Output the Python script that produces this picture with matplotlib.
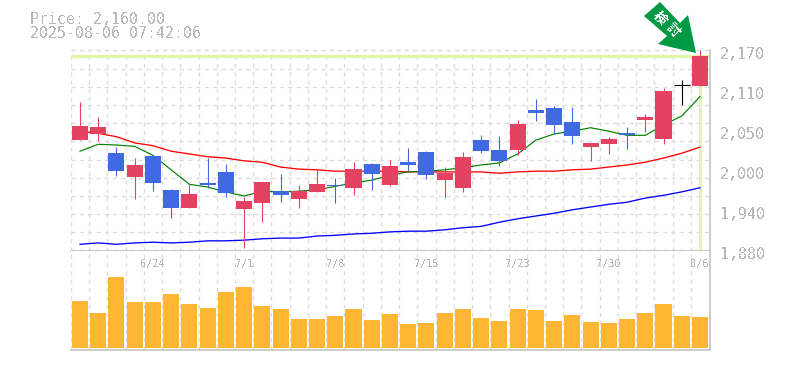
import numpy as np
import matplotlib
matplotlib.use("Agg")
import matplotlib.pyplot as plt
from matplotlib.patches import Polygon

W, H = 785, 370

# daily candles, price in yen
opens = [2040, 2049, 2021, 1987, 2017, 1968, 1942, 1978, 1994, 1940, 1949, 1966,
         1955, 1965, 1975, 1971, 2005, 1975, 2008, 2023, 1982, 1971, 2040, 2026,
         2026, 2084, 2087, 2066, 2030, 2034, 2050, 2069, 2042, 2120, 2119]
closes = [2060, 2059, 1995, 2004, 1978, 1942, 1962, 1975, 1963, 1952, 1979, 1960,
          1966, 1976, 1973, 1998, 1991, 2002, 2004, 1989, 1992, 2016, 2024, 2010,
          2063, 2079, 2062, 2046, 2036, 2042, 2047, 2074, 2111, 2120, 2162]
highs = [2095, 2074, 2030, 2014, 2018, 1969, 1976, 2014, 2005, 1958, 1979, 1991,
         1975, 1998, 1985, 2008, 2007, 2011, 2029, 2024, 2001, 2023, 2047, 2046,
         2069, 2100, 2090, 2088, 2036, 2045, 2059, 2078, 2116, 2127, 2171]
lows = [2040, 2039, 1988, 1955, 1966, 1927, 1942, 1971, 1958, 1884, 1921, 1950,
        1942, 1965, 1949, 1960, 1968, 1973, 1995, 1984, 1956, 1965, 2021, 2002,
        2018, 2068, 2050, 2034, 2010, 2020, 2027, 2052, 2034, 2091, 2119]

ma_short = [2024, 2034, 2033, 2031, 2018, 1997, 1976, 1972, 1965, 1959, 1966, 1965,
            1966, 1968, 1973, 1978, 1982, 1989, 1994, 1995, 1997, 2000, 2004, 2007,
            2020, 2040, 2049, 2053, 2058, 2053, 2047, 2047, 2062, 2075, 2103]
ma_mid = [2053, 2050, 2045, 2036, 2032, 2024, 2020, 2016, 2014, 2010, 2008, 2001,
          1998, 1997, 1995, 1995, 1995, 1995, 1994, 1994, 1994, 1994, 1994, 1992,
          1994, 1995, 1995, 1997, 1998, 2001, 2004, 2008, 2014, 2021, 2030]
ma_long = [1889, 1891, 1889, 1891, 1892, 1891, 1892, 1894, 1894, 1895, 1897, 1898,
           1898, 1901, 1902, 1904, 1905, 1907, 1908, 1908, 1910, 1913, 1915, 1921,
           1926, 1930, 1934, 1939, 1943, 1947, 1950, 1956, 1960, 1965, 1971]

volume = [47, 35, 71, 46, 46, 54, 44, 40, 56, 61, 42, 39, 29, 29, 32, 39, 28, 34,
          24, 25, 35, 39, 30, 27, 39, 38, 27, 33, 26, 25, 29, 35, 44, 32, 31]

date_pos = [4, 9, 14, 19, 24, 29, 34]
date_labels = ["6/24", "7/1", "7/8", "7/15", "7/23", "7/30", "8/6"]
# labels are rounded, the ticks themselves sit evenly spaced
price_labels = ["2,170", "2,110", "2,050", "2,000", "1,940", "1,880"]
last_price = 2162

RED = "#e34360"
BLUE = "#4169e1"
GRID = "#dcdcdc"
FRAME = "#c0c0c0"
TEXT = "#b8b8b8"
HILITE = "#e2f5a8"
FONT = "DejaVu Sans Mono"

plt.rcParams["text.antialiased"] = False


def box(left, top, right, bottom):
    return [left / W, 1 - bottom / H, (right - left) / W, (bottom - top) / H]


fig = plt.figure(figsize=(W / 100, H / 100), dpi=100, facecolor="white")
ax = fig.add_axes(box(70.5, 50.5, 710, 250.5))
axv = fig.add_axes(box(70.5, 250.5, 710, 350))

x = np.arange(len(opens))
xlim = (-0.52, 34.55)

# grid
for a in (ax, axv):
    a.set_xlim(xlim)
    a.set_xticks(x - 0.5)
    a.grid(True, axis="x", color=GRID, lw=1, ls=(0, (3, 3)))
    a.tick_params(length=0, labelbottom=False, labelleft=False)
    a.set_axisbelow(True)
    for s in a.spines.values():
        s.set_visible(False)
    for side in ("right", "bottom"):
        a.spines[side].set_visible(True)
        a.spines[side].set_color(FRAME)
        a.spines[side].set_linewidth(1.1)

ax.set_ylim(1880, 2170)
ax.set_yticks(np.linspace(1880, 2170, 12))
ax.grid(True, axis="y", color=GRID, lw=1, ls=(0, (3, 3)))
ax.plot(xlim, [2170, 2170], color=GRID, lw=1, ls=(0, (3, 3)), zorder=1, clip_on=False)

# current price highlight
ax.axhline(last_price, color=HILITE, lw=2.2, zorder=1.5)
ax.plot([x[-1], x[-1]], [1880, last_price], color=HILITE, lw=2.2, zorder=1.5)

# moving averages
ax.plot(x, ma_long, color="#0000ff", lw=0.95, zorder=2)
ax.plot(x, ma_mid, color="#ff0000", lw=0.95, zorder=2)
ax.plot(x, ma_short, color="#008000", lw=0.85, zorder=2)

# candles
for i in x:
    o, c = opens[i], closes[i]
    col = RED if c > o else (BLUE if c < o else "black")
    ax.vlines(i, lows[i], highs[i], color=col, lw=0.8, zorder=3, clip_on=False)
    if c == o:
        ax.hlines(c, i - 0.44, i + 0.44, color=col, lw=0.8, zorder=3)
    else:
        ax.bar(i, abs(c - o), bottom=min(o, c), width=0.88, color=col, zorder=3)

# volume
axv.set_ylim(-2, 97.5)
axv.bar(x, volume, width=0.88, color="#ffb733", zorder=3)
for p, t in zip(date_pos, date_labels):
    axv.text(p, 84.5, t, ha="center", va="center", fontsize=7.4, color=TEXT,
             family=FONT, zorder=4)

# right axis labels
for y, t in zip(np.linspace(2170, 1880, len(price_labels)), price_labels):
    ax.annotate(t, (1, y), xycoords=("axes fraction", "data"), xytext=(10, -4),
                textcoords="offset pixels", ha="left", va="center", fontsize=10.8,
                color=TEXT, family=FONT, annotation_clip=False)

# header
fig.text(30 / W, 1 - 19 / H, "Price: 2,160.00", fontsize=10.7, color=TEXT, family=FONT, va="center")
fig.text(30 / W, 1 - 34 / H, "2025-08-06 07:42:06", fontsize=10.7, color=TEXT, family=FONT, va="center")

# arrow badge, figure pixels
badge = [(644, 16), (660, 2), (680, 23), (688, 15), (696, 53), (658, 44), (667, 36)]
fig.add_artist(Polygon([(px / W, 1 - py / H) for px, py in badge], closed=True,
                       transform=fig.transFigure, facecolor="#009944", edgecolor="none", zorder=5))
for (px, py), ch in zip([(660, 18), (673, 30)], "検討"):
    fig.text(px / W, 1 - py / H, ch, fontsize=9.5, color="white", rotation=-45,
             rotation_mode="anchor", ha="center", va="center",
             family=["Noto Sans CJK JP", "DejaVu Sans"], fontweight="bold", zorder=6)

fig.savefig("out.png", dpi=100)
